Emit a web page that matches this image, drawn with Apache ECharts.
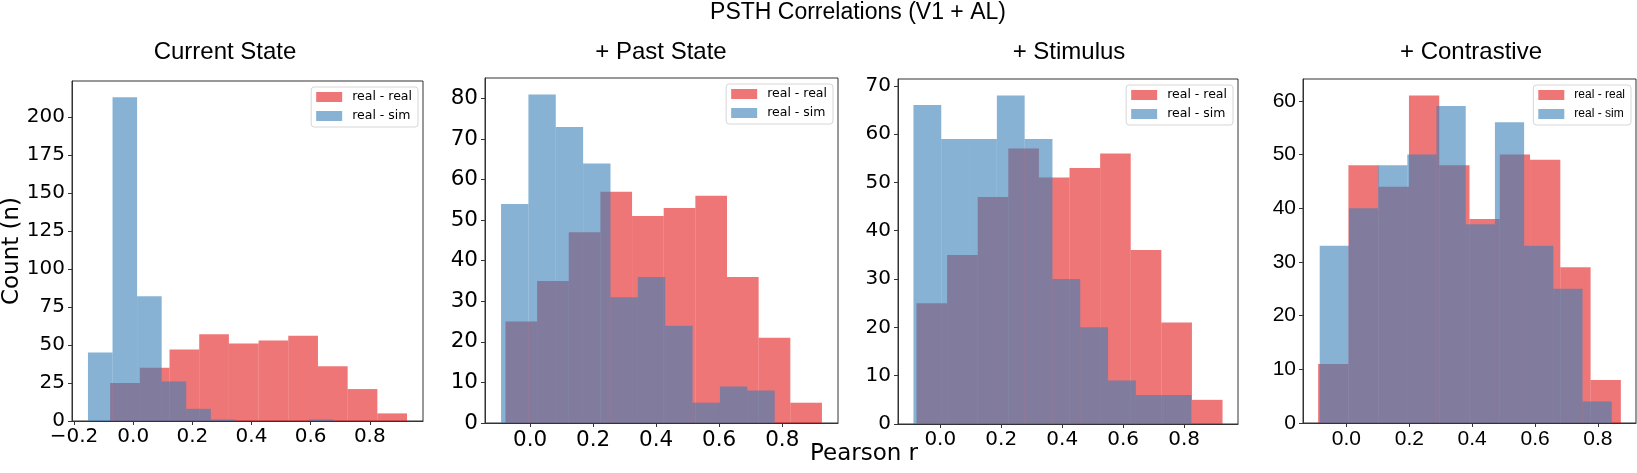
<!DOCTYPE html>
<html>
<head>
<meta charset="utf-8">
<script src="https://cdn.jsdelivr.net/npm/echarts@6/dist/echarts.min.js"></script>
<style>
  html, body { margin: 0; padding: 0; background: #fff; }
  #chart { width: 1637px; height: 473px; }
</style>
</head>
<body>
<div id="chart"></div>
<script>
/* PSTH correlation histograms, 4 panels */

const panelTitles = ["Current State", "+ Past State", "+ Stimulus", "+ Contrastive"];
const seriesNames = ["real - real", "real - sim"];

// counts per bin (10 bins each)
const realCurrent = [25, 35, 47, 57, 51, 53, 56, 36, 21, 5];
const simCurrent  = [45, 213, 82, 26, 8, 1, 0, 0, 0, 1];
const realPast    = [25, 35, 47, 57, 51, 53, 56, 36, 21, 5];
const simPast     = [54, 81, 73, 64, 31, 36, 24, 5, 9, 8];
const realStim    = [25, 35, 47, 57, 51, 53, 56, 36, 21, 5];
const simStim     = [66, 59, 59, 68, 59, 30, 20, 9, 6, 6];
const realContr   = [11, 48, 44, 61, 48, 38, 50, 49, 29, 8];
const simContr    = [33, 40, 48, 50, 59, 37, 56, 33, 25, 4];

// first and last bin edge of each histogram
const realBinRange = [[-0.078, 0.926], [-0.078, 0.926], [-0.078, 0.926], [-0.090, 0.873]];
const simBinRange  = [[-0.153, 0.678], [-0.092, 0.776], [-0.088, 0.824], [-0.085, 0.844]];

// tick labels
const xTicksCurrent = [-0.2, 0.0, 0.2, 0.4, 0.6, 0.8];
const xTicksOther   = [0.0, 0.2, 0.4, 0.6, 0.8];
const yTicksCurrent = [0, 25, 50, 75, 100, 125, 150, 175, 200];
const yTicksPast    = [0, 10, 20, 30, 40, 50, 60, 70, 80];
const yTicksStim    = [0, 10, 20, 30, 40, 50, 60, 70];
const yTicksContr   = [0, 10, 20, 30, 40, 50, 60];

const realCounts = [realCurrent, realPast, realStim, realContr];
const simCounts = [simCurrent, simPast, simStim, simContr];
const xTicks = [xTicksCurrent, xTicksOther, xTicksOther, xTicksOther];
const yTicks = [yTicksCurrent, yTicksPast, yTicksStim, yTicksContr];

// layout (pixels)
const grids = [
    {left: 72,   top: 81, right: 423,  bottom: 421},
    {left: 485,  top: 78, right: 838,  bottom: 423},
    {left: 898,  top: 79, right: 1238, bottom: 424},
    {left: 1303, top: 79, right: 1636, bottom: 423}
];
const tickFont = ["DejaVu Sans", "DejaVu Sans", "DejaVu Sans", "Liberation Sans"];
const tickSize = [20, 21.5, 20, 21];
const legendFont = ["DejaVu Sans", "DejaVu Sans", "DejaVu Sans", "Liberation Sans"];
const legendSize = [12.5, 12.5, 12.5, 12];

const RED = "rgba(228,26,28,0.6)";
const BLUE = "rgba(55,126,184,0.6)";
const W = 1637;

function bins(counts, range){
    const n = counts.length;
    const step = (range[1] - range[0]) / n;
    return counts.map((c, k) => [range[0] + k * step, range[0] + (k + 1) * step, c]);
}

function histItem(params, api){
    const p0 = api.coord([api.value(0), api.value(2)]);
    const p1 = api.coord([api.value(1), 0]);
    return {
        type: "rect",
        shape: {x: p0[0], y: p0[1], width: p1[0] - p0[0], height: p1[1] - p0[1]},
        style: {fill: api.visual("color")}
    };
}

function fmtX(v){
    const s = Math.abs(v).toFixed(1);
    return v < -1e-9 ? "\u2212" + s : s;
}

const chart = echarts.init(document.getElementById("chart"), null, {renderer: "canvas"});

const grid = [], xAxis = [], yAxis = [], series = [], legend = [];

grids.forEach((g, i) => {

    grid.push({
        left: g.left, top: g.top,
        width: g.right - g.left, height: g.bottom - g.top,
        show: true, borderColor: "#333", borderWidth: 1, backgroundColor: "transparent"
    });

    const lo = Math.min(realBinRange[i][0], simBinRange[i][0]);
    const hi = Math.max(realBinRange[i][1], simBinRange[i][1]);
    const pad = (hi - lo) * 0.05;
    const yMax = Math.max(...realCounts[i], ...simCounts[i]) * 1.05;

    xAxis.push({
        gridIndex: i, type: "value",
        min: lo - pad, max: hi + pad,
        axisLine: {show: true, onZero: false, lineStyle: {color: "#333", width: 1}},
        axisTick: {show: true, length: 4, customValues: xTicks[i], lineStyle: {color: "#333"}},
        axisLabel: {
            customValues: xTicks[i], formatter: fmtX, margin: 6,
            color: "#000", fontFamily: tickFont[i], fontSize: tickSize[i]
        },
        splitLine: {show: false}
    });

    yAxis.push({
        gridIndex: i, type: "value",
        min: 0, max: yMax,
        axisLine: {show: true, onZero: false, lineStyle: {color: "#333", width: 1}},
        axisTick: {show: true, length: 4, customValues: yTicks[i], lineStyle: {color: "#333"}},
        axisLabel: {
            customValues: yTicks[i], margin: 7,
            color: "#000", fontFamily: tickFont[i], fontSize: tickSize[i]
        },
        splitLine: {show: false}
    });

    series.push({
        type: "custom", name: seriesNames[0],
        xAxisIndex: i, yAxisIndex: i,
        itemStyle: {color: RED},
        encode: {x: [0, 1], y: 2},
        data: bins(realCounts[i], realBinRange[i]),
        renderItem: histItem
    });
    series.push({
        type: "custom", name: seriesNames[1],
        xAxisIndex: i, yAxisIndex: i,
        itemStyle: {color: BLUE},
        encode: {x: [0, 1], y: 2},
        data: bins(simCounts[i], simBinRange[i]),
        renderItem: histItem
    });

    legend.push({
        data: seriesNames,
        orient: "vertical",
        right: W - g.right + 5,
        top: g.top + 6,
        icon: "rect",
        itemWidth: 26, itemHeight: 10, itemGap: 5,
        padding: [3, 6, 4, 5],
        borderColor: "#d6d6d6", borderWidth: 1, borderRadius: 3,
        backgroundColor: "rgba(255,255,255,0.8)",
        selectedMode: false,
        textStyle: {
            fontFamily: legendFont[i], fontSize: legendSize[i], color: "#000",
            lineHeight: 14, padding: [0, 0, 0, 5]
        }
    });
});

const graphic = [
    {type: "text", x: 858, y: 13,
     style: {text: "PSTH Correlations (V1 + AL)", fontFamily: "Liberation Sans", fontSize: 23,
             fill: "#000", align: "center", verticalAlign: "middle"}},
    {type: "text", x: 864, y: 454,
     style: {text: "Pearson r", fontFamily: "DejaVu Sans", fontSize: 23,
             fill: "#000", align: "center", verticalAlign: "middle"}},
    {type: "text", x: 12, y: 251, rotation: Math.PI / 2,
     style: {text: "Count (n)", fontFamily: "DejaVu Sans", fontSize: 23,
             fill: "#000", align: "center", verticalAlign: "middle"}}
];

const titleX = [225, 661, 1069, 1471];
panelTitles.forEach((t, i) => {
    graphic.push({
        type: "text", x: titleX[i], y: 52,
        style: {text: t, fontFamily: "Liberation Sans", fontSize: 24,
                fill: "#000", align: "center", verticalAlign: "middle"}
    });
});

chart.setOption({
    animation: false,
    backgroundColor: "#fff",
    grid, xAxis, yAxis, series, legend, graphic
});
</script>
</body>
</html>
